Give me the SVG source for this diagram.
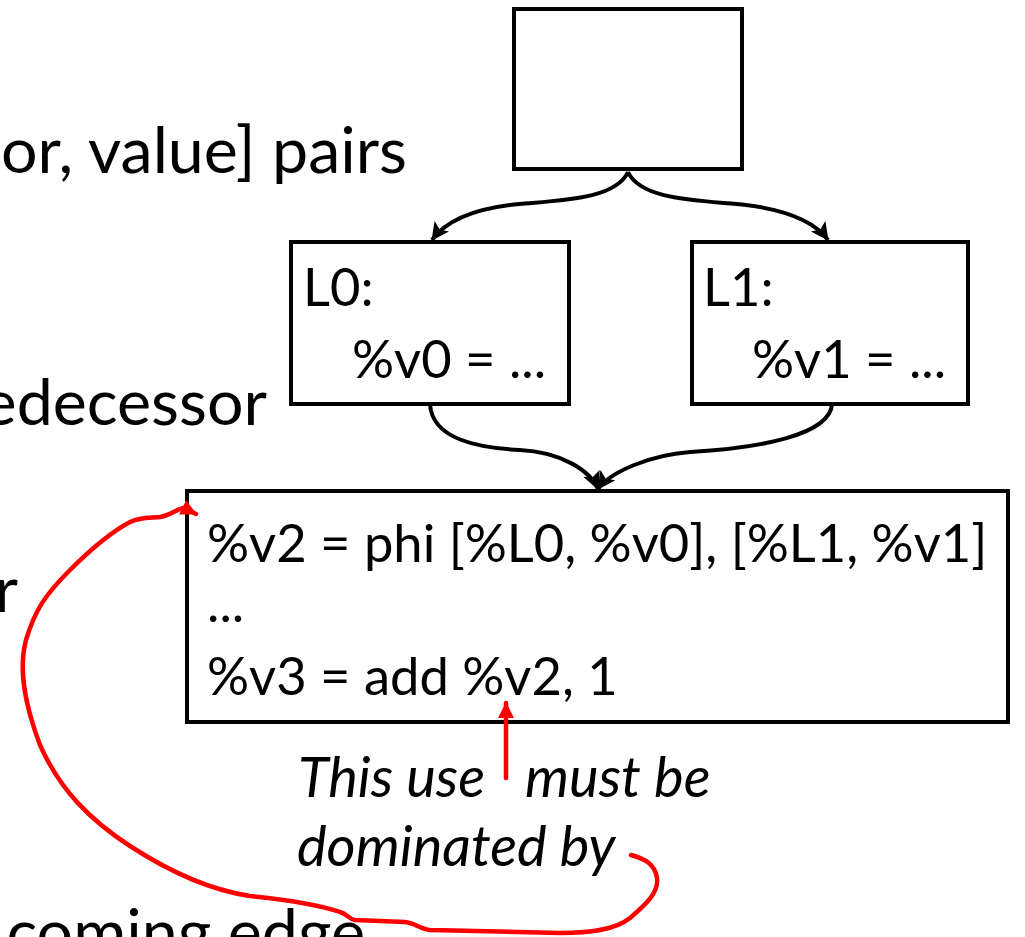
<svg xmlns="http://www.w3.org/2000/svg" width="1025" height="937" viewBox="0 0 1025 937">
  <style>
    .box { fill: #fff; stroke: #000; stroke-width: 4; }
    .txt { font-family: Lato, "Liberation Sans", sans-serif; font-size: 52.5px; fill: #000; }
    .slide { font-family: Lato, "Liberation Sans", sans-serif; font-size: 64.5px; fill: #000; }
    .note { font-family: Lato, "Liberation Sans", sans-serif; font-size: 56px; font-style: italic; fill: #000; }
    .edge { fill: none; stroke: #000; stroke-width: 4; }
    .red { fill: none; stroke: #f00; stroke-width: 4.5; stroke-linecap: round; stroke-linejoin: round; }
  </style>
  <defs>
    <marker id="arrow" markerUnits="userSpaceOnUse" viewBox="0 0 18 18" markerWidth="18" markerHeight="18" refX="17" refY="9" orient="auto">
      <path d="M0,0 L18,9 L0,18 L4,9 z" fill="#000"/>
    </marker>
    <marker id="redArrow" markerUnits="userSpaceOnUse" viewBox="0 0 16 16" markerWidth="16" markerHeight="16" refX="15" refY="8" orient="auto">
      <path d="M0,0 L16,8 L0,16 z" fill="#f00"/>
    </marker>
  </defs>

  <!-- slide text running off the left edge -->
  <g id="slide-text" class="slide">
    <text x="407" y="173" text-anchor="end">or, value] pairs</text>
    <text x="267" y="425" text-anchor="end">edecessor</text>
    <text x="18" y="612" text-anchor="end">r</text>
    <text x="365" y="955" text-anchor="end">coming edge</text>
  </g>

  <!-- control-flow edges -->
  <g id="connectors">
    <path class="edge" marker-end="url(#arrow)" d="M628,172 C615,200 560,200 510,205 C470,210 445,222 432,240"/>
    <path class="edge" marker-end="url(#arrow)" d="M628,172 C641,200 696,200 746,205 C786,210 815,222 828,240"/>
    <path class="edge" marker-end="url(#arrow)" d="M430,404 C432,440 480,448 520,450 C560,452 590,470 598,489"/>
    <path class="edge" marker-end="url(#arrow)" d="M832,404 C830,435 760,448 690,452 C650,455 610,472 598,489"/>
  </g>

  <g id="entry">
    <rect class="box" x="514" y="9" width="228" height="160"/>
  </g>

  <g id="L0">
    <rect class="box" x="291" y="242" width="278" height="162"/>
    <text class="txt" x="303" y="306">L0:</text>
    <text class="txt" x="352" y="378">%v0 = ...</text>
  </g>

  <g id="L1">
    <rect class="box" x="692" y="242" width="276" height="162"/>
    <text class="txt" x="703" y="306">L1:</text>
    <text class="txt" x="752" y="378">%v1 = ...</text>
  </g>

  <g id="merge">
    <rect class="box" x="187" y="491" width="821" height="231"/>
    <text class="txt" x="207" y="562">%v2 = phi [%L0, %v0], [%L1, %v1]</text>
    <text class="txt" x="207" y="622">...</text>
    <text class="txt" x="207" y="695">%v3 = add %v2, 1</text>
  </g>

  <!-- annotation -->
  <g id="annotation">
    <text class="note" x="298" y="797">This use</text>
    <text class="note" x="525" y="797">must be</text>
    <text class="note" x="297" y="866">dominated by</text>
    <path class="red" marker-end="url(#redArrow)" d="M506,778 L506,703"/>
    <path class="red" marker-end="url(#redArrow)" d="M631,855 C645,859 655,864 657,878 C659,893 645,905 630,918 C615,930 590,933 560,933 L430,930 C420,929 415,923 405,922 L355,920 C348,919 348,914 340,912 C320,905 290,900 250,896 C210,890 170,872 130,846 C90,820 60,790 40,745 C25,705 18,670 26,640 C35,610 45,595 70,570 C95,545 115,530 130,522 C140,517 150,518 160,517 C172,515 178,508 184,508 L196,514"/>
  </g>
</svg>
